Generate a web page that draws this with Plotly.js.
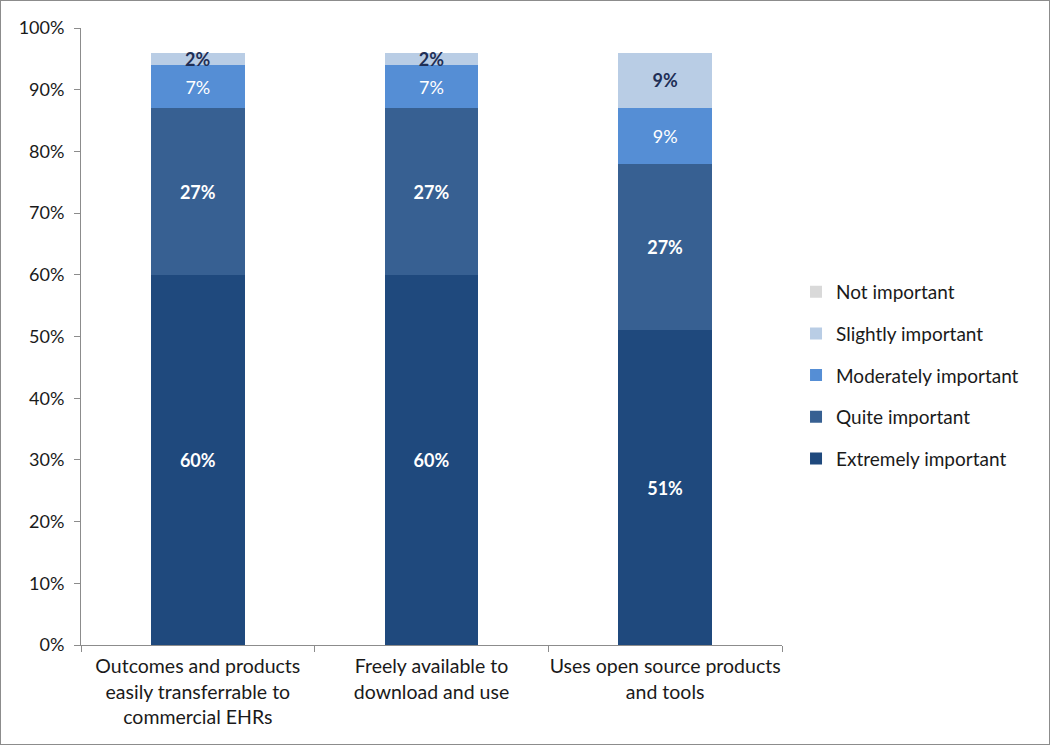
<!DOCTYPE html>
<html>
<head>
<meta charset="utf-8">
<script src="https://cdn.plot.ly/plotly-3.0.1.min.js"></script>
<style>
  html, body { margin: 0; padding: 0; background: #fff; }
  #chart { width: 1048px; height: 743px; border: 1px solid #8c8c8c; }
</style>
</head>
<body>
<div id="chart"></div>
<script>
const categories = [
  "Outcomes and products<br>easily transferrable to<br>commercial EHRs",
  "Freely available to<br>download and use",
  "Uses open source products<br>and tools"
];
const extremelyImportant = [60, 60, 51];
const quiteImportant = [27, 27, 27];
const moderatelyImportant = [7, 7, 9];
const slightlyImportant = [2, 2, 9];
const notImportant = [0, 0, 0];

const seriesNames = ["Extremely important", "Quite important", "Moderately important", "Slightly important", "Not important"];
const seriesValues = [extremelyImportant, quiteImportant, moderatelyImportant, slightlyImportant, notImportant];
const seriesColors = ["#1f497d", "#376092", "#558ed5", "#b9cde5", "#d9d9d9"];
const labelColors = ["#ffffff", "#ffffff", "#ffffff", "#1f2f56", "#1f2f56"];
const labelBold = [true, true, false, true, true];

const FONT = "Lato, 'Open Sans', sans-serif";

const traces = seriesNames.map((name, i) => ({
  type: "bar",
  name: name,
  legendgroup: "g" + i,
  legendrank: 100 - i,
  x: categories,
  y: seriesValues[i],
  text: seriesValues[i].map(v => v > 0 ? (labelBold[i] ? "<b>" + v + "%</b>" : v + "%") : ""),
  textposition: "inside",
  insidetextanchor: "middle",
  textangle: 0,
  constraintext: "none",
  cliponaxis: false,
  insidetextfont: { family: FONT, size: 18, color: labelColors[i] },
  marker: { color: seriesColors[i], line: { width: 0 } },
  width: 0.4,
  hoverinfo: "skip"
}));

const layout = {
  width: 1048,
  height: 743,
  margin: { l: 80, r: 267, t: 27, b: 99 },
  paper_bgcolor: "#ffffff",
  plot_bgcolor: "#ffffff",
  barmode: "stack",
  showlegend: true,
  font: { family: FONT, size: 16, color: "#1a1a1a" },
  legend: {
    x: 1.02, xanchor: "left",
    y: 0.437, yanchor: "middle",
    traceorder: "grouped",
    tracegroupgap: 14,
    font: { family: FONT, size: 19, color: "#1a1a1a" },
    itemwidth: 30
  },
  xaxis: {
    type: "category",
    showline: true,
    linecolor: "#8c8c8c",
    linewidth: 1,
    ticks: "outside",
    tickson: "boundaries",
    ticklen: 6,
    tickcolor: "#8c8c8c",
    showgrid: false,
    tickangle: 0,
    ticklabelstandoff: 4,
    tickfont: { family: FONT, size: 19.5, color: "#1a1a1a" },
    fixedrange: true
  },
  yaxis: {
    range: [0, 100],
    dtick: 10,
    ticksuffix: "%",
    showline: true,
    linecolor: "#8c8c8c",
    linewidth: 1,
    ticks: "outside",
    ticklen: 6,
    tickcolor: "#8c8c8c",
    showgrid: false,
    zeroline: false,
    ticklabelstandoff: 6,
    tickfont: { family: FONT, size: 18, color: "#1a1a1a" },
    fixedrange: true
  }
};

Plotly.newPlot("chart", traces, layout, { displayModeBar: false, staticPlot: true });
</script>
</body>
</html>
